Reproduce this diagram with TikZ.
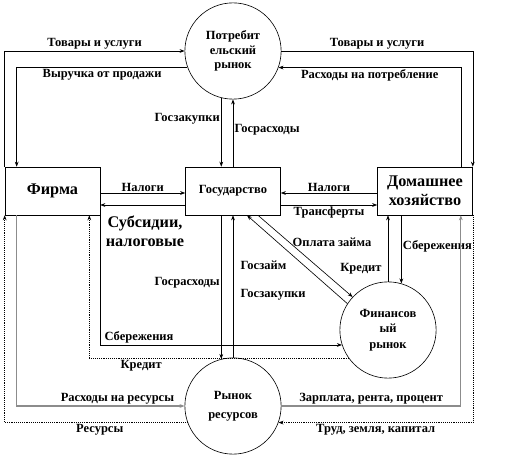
\documentclass[tikz,border=0pt]{standalone}
\usepackage{fontspec}
\setmainfont{Liberation Serif}
\usetikzlibrary{arrows.meta,calc}

\begin{document}
\begin{tikzpicture}[
  x=0.8pt, y=-0.8pt,
  font=\bfseries\fontsize{10}{12}\selectfont,
  >={Stealth[length=4pt, width=3pt]},
  block/.style={draw=black, line width=0.5pt, minimum width=76pt, minimum height=38.4pt, inner sep=2pt, align=center},
  bigtext/.style={font=\bfseries\fontsize{13}{15}\selectfont},
  market/.style={circle, draw=black, line width=0.5pt, minimum size=77pt, inner sep=0pt, align=center, font=\bfseries\fontsize{10}{11.5}\selectfont},
  flow/.style={->, draw=black, line width=0.5pt},
  flowgray/.style={flow, draw=black!45, line width=1pt},
  flowdot/.style={flow, densely dotted},
  lbl/.style={inner sep=1pt}
]
\useasboundingbox (0,0) rectangle (506,458);

% Markets and sectors
\node[market] (cons) at (233,51) {Потребит\\ельский\\рынок};
\node[block, bigtext] (firm) at (52.5,191) {Фирма};
\node[block] (gov) at (233,191) {Государство};
\node[block, bigtext] (house) at (425,191) {Домашнее\\хозяйство};
\node[market, font=\bfseries\fontsize{10}{12.5}\selectfont] (fin) at (388,330) {Финансов\\ый\\рынок};
\node[market, font=\bfseries\fontsize{10}{15}\selectfont] (res) at (233,406) {Рынок\\ресурсов};

% Consumer market
\draw[flow] (firm.north west) |- node[lbl, above, pos=0.75] (goodsl) {Товары и услуги} (cons.west);
\draw[flow] (cons.200) -| node[lbl, below, pos=0.25] (revenue) {Выручка от продажи} ($(firm.north west)+(12,0)$);
\draw[flow] (cons.east) -| node[lbl, above, pos=0.25] (goodsr) {Товары и услуги} (house.north east);
\draw[flow] ($(house.north east)+(-12,0)$) |- node[lbl, below, pos=0.75] (spend) {Расходы на потребление} (cons.-20);
\draw[flow] (cons.256) -- node[lbl, left, pos=0.3] (procup) {Госзакупки} (cons.256 |- gov.north);
\draw[flow] (cons.south |- gov.north) -- node[lbl, right, pos=0.55] (govspup) {Госрасходы} (cons.south);

% Taxes, subsidies, transfers
\draw[flow] ($(firm.east)+(0,2)$) -- node[lbl, above] (taxl) {Налоги} ($(gov.west)+(0,2)$);
\draw[flow] ($(gov.west)+(0,14)$) -- ($(firm.east)+(0,14)$);
\node[lbl, bigtext, align=center] (subsidy) at (145,231) {Субсидии,\\налоговые};
\draw[flow] ($(house.west)+(0,2)$) -- node[lbl, above] (taxr) {Налоги} ($(gov.east)+(0,2)$);
\draw[flow] ($(gov.east)+(0,14)$) -- node[lbl, below] (transfer) {Трансферты} ($(house.west)+(0,14)$);

% Financial market
\draw[flow] (fin.74 |- house.south) -- node[lbl, right, pos=0.45] (saveh) {Сбережения} (fin.74);
\draw[flow] (fin.north) -- node[lbl, left, pos=0.2, xshift=-4pt] (credith) {Кредит} (fin.north |- house.south);
\draw[flow] (fin.147) -- ($(gov.south)+(14,0)$);
\draw[flow] ($(gov.south)+(25,0)$) -- (fin.137);
\node[lbl] (repay) at (332,242) {Оплата займа};
\node[lbl, anchor=west] (loan) at (239,265) {Госзайм};
\draw[flow] (firm.south east) |- node[lbl, above, pos=0.58] (savef) {Сбережения} (fin.198);
\draw[flowdot] (fin.216) -| node[lbl, below, pos=0.4] (creditf) {Кредит} ($(firm.south east)+(-11,0)$);

% Resource market
\draw[flow] (res.104 |- gov.south) -- node[lbl, left, pos=0.47] (govspdn) {Госрасходы} (res.104);
\draw[flow] (res.north) -- (res.north |- gov.south);
\node[lbl, anchor=west] (procdn) at (239,295) {Госзакупки};
\draw[flowgray] ($(firm.south west)+(12,0)$) |- node[lbl, above, pos=0.8] (rescost) {Расходы на ресурсы} (res.west);
\draw[flowdot] (res.200) -| node[lbl, below, pos=0.24] (resources) {Ресурсы} (firm.south west);
\draw[flowgray] (res.east) -| node[lbl, above, pos=0.25] (income) {Зарплата, рента, процент} ($(house.south east)+(-12,0)$);
\draw[flowdot] (house.south east) |- node[lbl, below, pos=0.75] (factors) {Труд, земля, капитал} (res.-20);

\end{tikzpicture}
\end{document}
